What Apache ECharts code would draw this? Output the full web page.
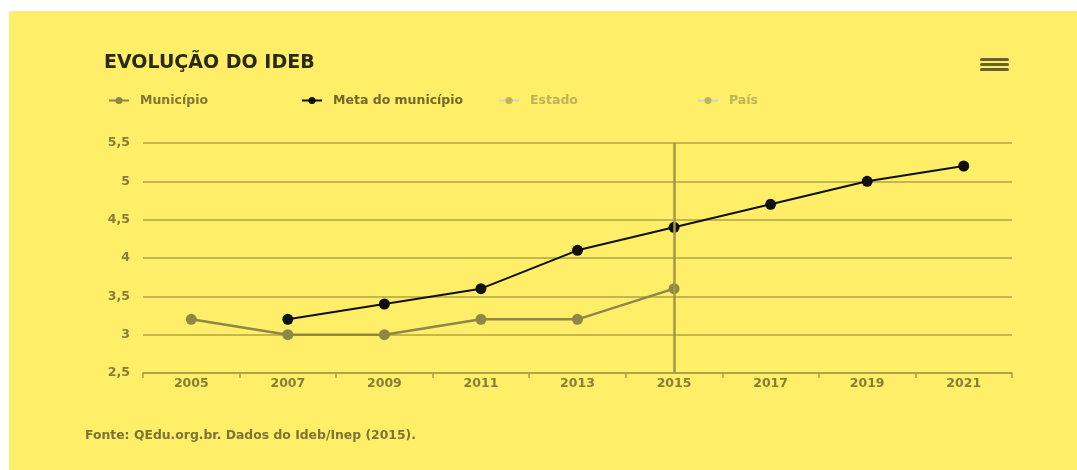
<!DOCTYPE html>
<html>
<head>
<meta charset="utf-8">
<script src="https://cdn.jsdelivr.net/npm/echarts@6/dist/echarts.min.js"></script>
<style>
html,body{margin:0;padding:0;background:#ffffff;width:1077px;height:470px;overflow:hidden;}
#c{position:absolute;left:9px;top:11px;width:1068px;height:459px;background:#FFEE68;}
</style>
</head>
<body>
<div id="c"></div>
<script>
const years = ['2005','2007','2009','2011','2013','2015','2017','2019','2021'];
const municipio = [3.2, 3.0, 3.0, 3.2, 3.2, 3.6, null, null, null];
const metaMunicipio = [null, 3.2, 3.4, 3.6, 4.1, 4.4, 4.7, 5.0, 5.2];
const estado = [];
const pais = [];
const seriesNames = ['Município', 'Meta do município', 'Estado', 'País'];
const yTicks = [2.5, 3, 3.5, 4, 4.5, 5, 5.5];

const font = 'DejaVu Sans';
const olive = '#857D38';
const chart = echarts.init(document.getElementById('c'));
const legendLefts = [94, 287, 484, 683];
const selected = {'Estado': false, 'País': false};
chart.setOption({
  backgroundColor: '#FFEE68',
  animation: false,
  title: {
    text: 'EVOLUÇÃO DO IDEB',
    left: 90, top: 38,
    textStyle: {fontFamily: font, fontSize: 19, fontWeight: 'bold', color: '#2B2A10'}
  },
  legend: seriesNames.map((n, i) => ({
    data: [n],
    left: legendLefts[i], top: 78,
    itemWidth: 20, itemHeight: 9, itemGap: 0,
    selected: selected,
    inactiveColor: '#BDB35A',
    textStyle: {fontFamily: font, fontSize: 12.5, fontWeight: 'bold', color: i === 0 ? '#7E7736' : '#6F6930', padding: [0,0,0,6]}
  })),
  graphic: [
    {type: 'rect', left: 971, top: 47, shape: {width: 29, height: 3, r: 1.5}, style: {fill: '#6A6328'}},
    {type: 'rect', left: 971, top: 52, shape: {width: 29, height: 3, r: 1.5}, style: {fill: '#6A6328'}},
    {type: 'rect', left: 971, top: 57, shape: {width: 29, height: 3, r: 1.5}, style: {fill: '#6A6328'}},
    {type: 'text', left: 76, top: 419, style: {text: 'Fonte: QEdu.org.br. Dados do Ideb/Inep (2015).', fontFamily: font, fontSize: 12.4, fontWeight: 'bold', fill: '#7C7433'}}
  ],
  grid: {left: 134, right: 65, top: 132, bottom: 97},
  xAxis: {
    type: 'category',
    data: years,
    boundaryGap: true,
    axisLine: {show: true, lineStyle: {color: '#A89F45', width: 1.5}},
    axisTick: {show: true, length: 5, lineStyle: {color: '#A89F45', width: 1.5}},
    axisLabel: {fontFamily: font, fontSize: 12.5, fontWeight: 'bold', color: olive, margin: 4},
    splitLine: {show: false}
  },
  yAxis: {
    type: 'value',
    min: yTicks[0], max: yTicks[yTicks.length - 1], interval: 0.5,
    axisLine: {show: false},
    axisTick: {show: false},
    axisLabel: {fontFamily: font, fontSize: 12.5, fontWeight: 'bold', color: olive, margin: 13,
      formatter: v => String(v).replace('.', ',')},
    splitLine: {lineStyle: {color: '#ADA444', width: 1.5}}
  },
  series: [
    {
      name: seriesNames[0], type: 'line', data: municipio,
      color: '#8F8745',
      symbol: 'circle', symbolSize: 11,
      lineStyle: {width: 2.5, color: '#8F8745'},
      itemStyle: {color: '#8F8745'},
      markLine: {
        silent: true, symbol: 'none', label: {show: false},
        lineStyle: {color: '#A39A48', width: 2.5, type: 'solid'},
        data: [{xAxis: '2015'}]
      },
      z: 2
    },
    {
      name: seriesNames[1], type: 'line', data: metaMunicipio,
      color: '#111008',
      symbol: 'circle', symbolSize: 11,
      lineStyle: {width: 2, color: '#111008'},
      itemStyle: {color: '#111008'},
      z: 3
    },
    {
      name: seriesNames[2], type: 'line', data: estado,
      color: '#BDB35A', symbol: 'circle', symbolSize: 11,
      lineStyle: {width: 2}
    },
    {
      name: seriesNames[3], type: 'line', data: pais,
      color: '#BDB35A', symbol: 'circle', symbolSize: 11,
      lineStyle: {width: 2, type: 'dotted'}
    }
  ]
});
</script>
</body>
</html>
